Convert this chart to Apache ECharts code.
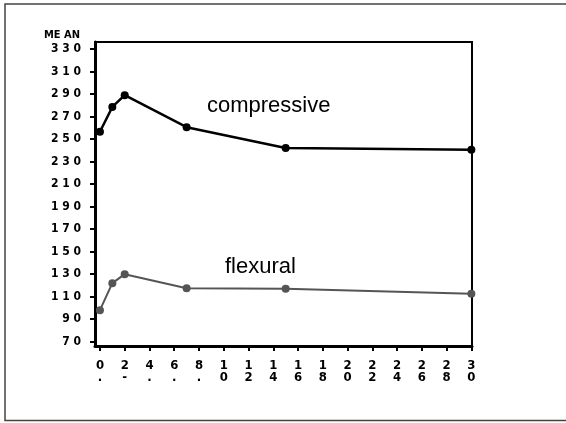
<!DOCTYPE html>
<html><head><meta charset="utf-8">
<script src="https://cdn.jsdelivr.net/npm/echarts@6/dist/echarts.min.js"></script>
<style>html,body{margin:0;padding:0;background:#fff}#c{width:566px;height:423px}</style>
</head><body><div id="c"></div>
<script>
var days = [0, 1, 2, 7, 15, 30];
var compressive = [256.5, 278.5, 289, 260.5, 242, 240.5];
var flexural = [98, 122, 130, 117.5, 117, 112.5];
var xTicks = [0, 2, 4, 6, 8, 10, 12, 14, 16, 18, 20, 22, 24, 26, 28, 30];
var yTicks = [70, 90, 110, 130, 150, 170, 190, 210, 230, 250, 270, 290, 310, 330];
var xSub = {0: '.', 2: '-', 4: '.', 6: '.', 8: '.'};

var chart = echarts.init(document.getElementById('c'));
var font = 'DejaVu Sans Condensed';
chart.setOption({
  animation: false,
  backgroundColor: '#fff',
  grid: {left: 95, top: 42, right: 94, bottom: 77, show: true, borderColor: '#000', borderWidth: 2},
  xAxis: {
    type: 'value', min: -0.4, max: 30.05,
    splitLine: {show: false},
    axisLine: {onZero: false, lineStyle: {color: '#000', width: 3}},
    axisTick: {show: true, length: 5, customValues: xTicks, lineStyle: {color: '#000', width: 2}},
    axisLabel: {
      customValues: xTicks, margin: 14, color: '#000', fontFamily: font, fontWeight: 'bold', fontSize: 13, lineHeight: 12,
      formatter: function (v) {
        if (v < 10) return v + '\n' + xSub[v];
        var s = String(v); return s[0] + '\n' + s[1];
      }
    }
  },
  yAxis: {
    type: 'value', min: 66.2, max: 336.2,
    splitLine: {show: false},
    axisLine: {onZero: false, lineStyle: {color: '#000', width: 3}},
    axisTick: {show: true, length: 5, customValues: yTicks, lineStyle: {color: '#000', width: 2}},
    axisLabel: {
      customValues: yTicks, margin: 14, color: '#000', fontFamily: font, fontWeight: 'bold', fontSize: 12,
      formatter: function (v) { return String(v).split('').join(' '); }
    }
  },
  series: [
    {type: 'line', data: days.map(function (d, i) { return [d, compressive[i]]; }),
     symbol: 'circle', symbolSize: 8, lineStyle: {color: '#000', width: 2.5}, itemStyle: {color: '#000'}},
    {type: 'line', data: days.map(function (d, i) { return [d, flexural[i]]; }),
     symbol: 'circle', symbolSize: 8, lineStyle: {color: '#555', width: 2}, itemStyle: {color: '#555'}}
  ],
  graphic: [
    {type: 'rect', shape: {x: 5, y: 4, width: 620, height: 416.5}, style: {fill: 'none', stroke: '#444', lineWidth: 1.5}, silent: true},
    {type: 'text', left: 44, top: 30, style: {text: 'ME AN', font: 'bold 11px "DejaVu Sans Condensed"', fill: '#000'}},
    {type: 'text', left: 207, top: 95, style: {text: 'compressive', font: '22px "Liberation Sans"', fill: '#000'}},
    {type: 'text', left: 225, top: 256, style: {text: 'flexural', font: '22px "Liberation Sans"', fill: '#000'}}
  ]
});
</script></body></html>
